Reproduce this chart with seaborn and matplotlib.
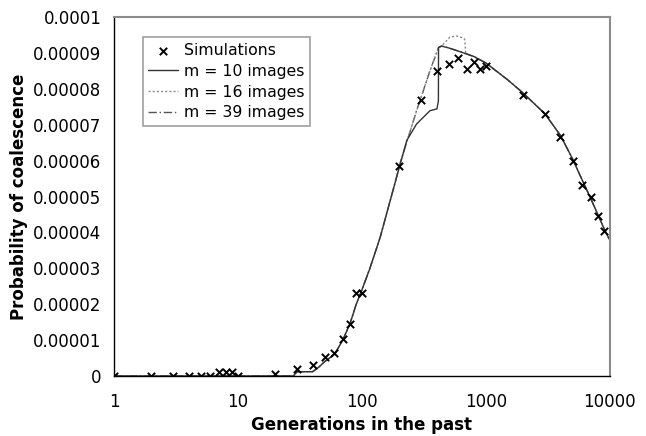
import numpy as np
import pandas as pd
import seaborn as sns
import matplotlib
matplotlib.use("Agg")
import matplotlib.pyplot as plt
from matplotlib.ticker import FixedLocator, FuncFormatter, NullLocator

# Simulation points
sim_x = [1, 2, 3, 4, 5, 6, 7, 8, 9, 10, 20, 30, 40, 50, 60, 70, 80, 90, 100,
         200, 300, 400, 500, 600, 700, 800, 900, 1000,
         2000, 3000, 4000, 5000, 6000, 7000, 8000, 9000]
sim_y = [0, 0, 0, 0, 0, 0, 1.2e-6, 1.2e-6, 1.2e-6, 0, 0.5e-6, 1.9e-6, 3.0e-6, 5.3e-6, 6.4e-6,
         1.02e-5, 1.46e-5, 2.30e-5, 2.30e-5,
         5.86e-5, 7.69e-5, 8.50e-5, 8.69e-5, 8.87e-5, 8.55e-5, 8.76e-5, 8.55e-5, 8.64e-5,
         7.82e-5, 7.30e-5, 6.65e-5, 6.00e-5, 5.33e-5, 4.98e-5, 4.47e-5, 4.03e-5]

# m = 39 images (main curve)
m39_x = [1, 5, 10, 20, 28, 30, 40, 45, 50, 60, 70, 80, 90, 100, 116, 140, 184, 202, 276, 354,
         415, 439, 500, 600, 700, 800, 1000, 1500, 2000, 3000, 4000, 5000, 6000,
         7000, 8000, 9000, 10000]
m39_y = [0, 0, 0, 0, 0, 1.2e-6, 1.2e-6, 2.5e-6, 4.0e-6, 6.0e-6, 1.0e-5, 1.45e-5, 2.0e-5,
         2.4e-5, 3.0e-5, 3.85e-5, 5.35e-5, 5.9e-5, 7.39e-5, 8.50e-5,
         9.15e-5, 9.19e-5, 9.14e-5, 9.05e-5, 8.97e-5, 8.90e-5, 8.72e-5, 8.25e-5, 7.88e-5,
         7.30e-5, 6.70e-5, 6.05e-5, 5.45e-5, 4.95e-5, 4.50e-5, 4.10e-5, 3.78e-5]

# m = 16 images (bump after the peak)
m16_x = [1, 5, 10, 20, 28, 30, 40, 45, 50, 60, 70, 80, 90, 100, 116, 140, 184, 202, 276, 354,
         415, 439, 468, 512, 580, 637, 675, 688, 700, 800, 1000, 1500, 2000, 3000, 4000,
         5000, 6000, 7000, 8000, 9000, 10000]
m16_y = [0, 0, 0, 0, 0, 1.2e-6, 1.2e-6, 2.5e-6, 4.0e-6, 6.0e-6, 1.0e-5, 1.45e-5, 2.0e-5,
         2.4e-5, 3.0e-5, 3.85e-5, 5.35e-5, 5.9e-5, 7.39e-5, 8.50e-5,
         9.15e-5, 9.19e-5, 9.29e-5, 9.44e-5, 9.47e-5, 9.43e-5, 9.38e-5, 8.99e-5, 8.97e-5,
         8.90e-5, 8.72e-5, 8.25e-5, 7.88e-5, 7.30e-5, 6.70e-5, 6.05e-5, 5.45e-5,
         4.95e-5, 4.50e-5, 4.10e-5, 3.78e-5]

# m = 10 images (lower branch before the peak)
m10_x = [1, 5, 10, 20, 28, 30, 40, 45, 50, 60, 70, 80, 90, 100, 116, 140, 184, 230, 276,
         354, 403, 414, 415, 439, 500, 600, 700, 800, 1000, 1500, 2000, 3000, 4000,
         5000, 6000, 7000, 8000, 9000, 10000]
m10_y = [0, 0, 0, 0, 0, 1.2e-6, 1.2e-6, 2.5e-6, 4.0e-6, 6.0e-6, 1.0e-5, 1.45e-5, 2.0e-5,
         2.4e-5, 3.0e-5, 3.85e-5, 5.35e-5, 6.56e-5, 7.02e-5,
         7.39e-5, 7.44e-5, 7.67e-5, 9.15e-5, 9.19e-5, 9.14e-5, 9.05e-5, 8.97e-5, 8.90e-5,
         8.72e-5, 8.25e-5, 7.88e-5, 7.30e-5, 6.70e-5, 6.05e-5, 5.45e-5, 4.95e-5,
         4.50e-5, 4.10e-5, 3.78e-5]

x_ticks = [1, 10, 100, 1000, 10000]
y_ticks = [0, 0.00001, 0.00002, 0.00003, 0.00004, 0.00005, 0.00006, 0.00007,
           0.00008, 0.00009, 0.0001]
y_labels = ["0", "0.00001", "0.00002", "0.00003", "0.00004", "0.00005", "0.00006",
            "0.00007", "0.00008", "0.00009", "0.0001"]

sns.set_style("white")
plt.rcParams['font.family'] = ['DejaVu Sans']
plt.rcParams['text.color'] = 'black'
plt.rcParams['axes.labelcolor'] = 'black'

fig = plt.figure(figsize=(6.46, 4.36), dpi=100)
ax = fig.add_axes([0.1765, 0.1376, 0.7675, 0.8234])

df10 = pd.DataFrame({"x": m10_x, "y": m10_y})
df16 = pd.DataFrame({"x": m16_x, "y": m16_y})
df39 = pd.DataFrame({"x": m39_x, "y": m39_y})
dfs = pd.DataFrame({"x": sim_x, "y": sim_y})

sns.lineplot(data=df39, x="x", y="y", ax=ax, color="#555555", lw=1.0,
             linestyle=(0, (6, 2, 1, 2)), sort=False, estimator=None,
             label="m = 39 images")
sns.lineplot(data=df16, x="x", y="y", ax=ax, color="#888888", lw=1.0,
             linestyle=(0, (1.5, 1.5)), sort=False, estimator=None,
             label="m = 16 images")
sns.lineplot(data=df10, x="x", y="y", ax=ax, color="#333333", lw=1.0,
             linestyle="-", sort=False, estimator=None,
             label="m = 10 images")
sns.scatterplot(data=dfs, x="x", y="y", ax=ax, marker="x", s=28, color="black",
                linewidth=1.4, label="Simulations", zorder=5)

ax.set_xscale("log")
ax.set_xlim(1, 10000)
ax.set_ylim(0, 0.0001)
ax.xaxis.set_major_locator(FixedLocator(x_ticks))
ax.xaxis.set_minor_locator(NullLocator())
ax.xaxis.set_major_formatter(FuncFormatter(lambda v, p: f"{int(round(v))}"))
ax.set_yticks(y_ticks)
ax.set_yticklabels(y_labels)
ax.tick_params(axis="both", which="major", direction="out", length=4, width=1,
               labelsize=12, colors="black", pad=5)
ax.tick_params(axis="x", pad=8)

for s in ["left", "bottom"]:
    ax.spines[s].set_color("black")
    ax.spines[s].set_linewidth(1.0)
for s in ["top", "right"]:
    ax.spines[s].set_color("#8c8c8c")
    ax.spines[s].set_linewidth(1.5)

ax.set_xlabel("Generations in the past", fontsize=12, fontweight="bold", labelpad=4,
              color="black")
ax.set_ylabel("Probability of coalescence", fontsize=12, fontweight="bold", labelpad=4,
              color="black")

handles, labels = ax.get_legend_handles_labels()
order = [labels.index(l) for l in ["Simulations", "m = 10 images", "m = 16 images", "m = 39 images"]]
leg = ax.legend([handles[i] for i in order], [labels[i] for i in order],
                loc="upper left", bbox_to_anchor=(0.058, 0.943), fontsize=11.3,
                frameon=True, fancybox=False, edgecolor="#888888",
                handlelength=1.9, handletextpad=0.35, borderpad=0.35,
                labelspacing=0.37, borderaxespad=0)
leg.get_frame().set_linewidth(1.2)
for t in leg.get_texts():
    t.set_color("black")

fig.savefig("out.png", dpi=100, facecolor="white")
